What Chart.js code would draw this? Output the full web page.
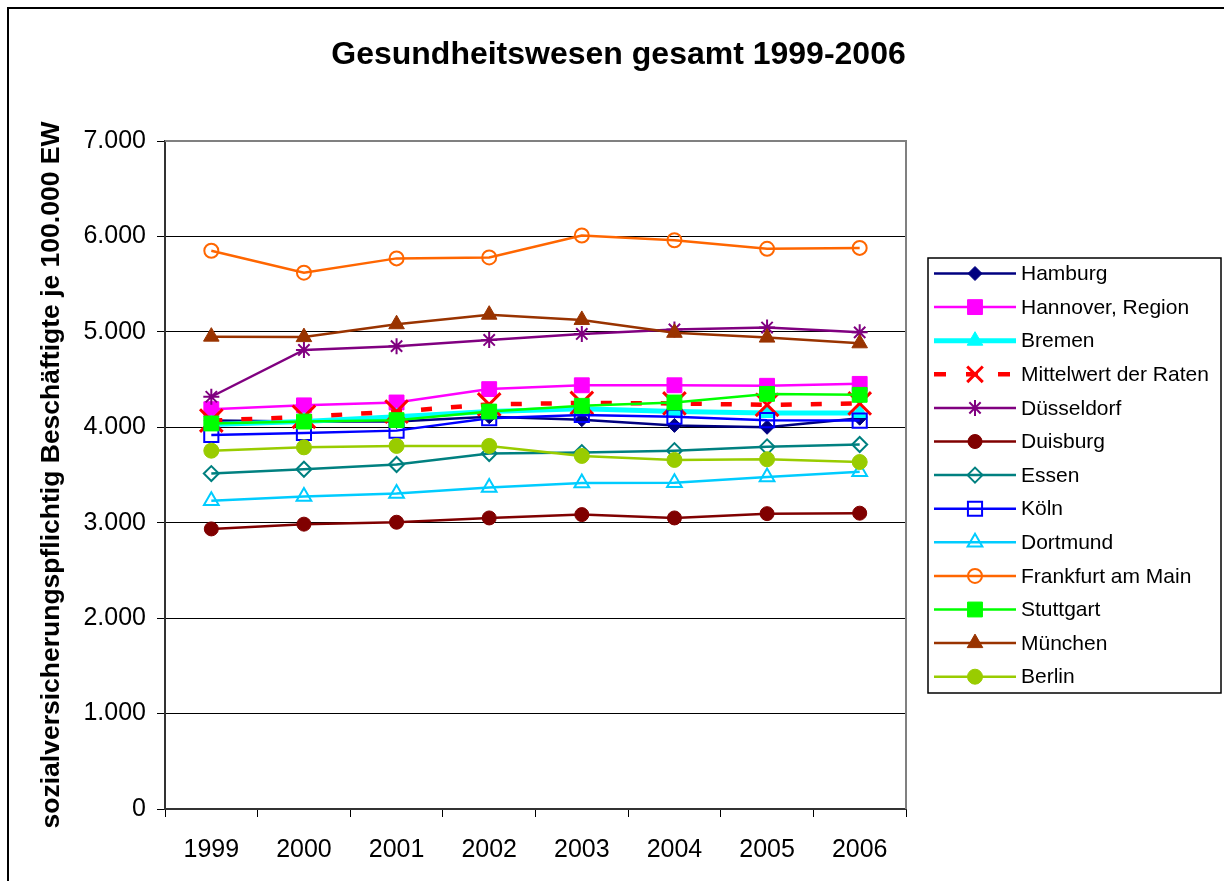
<!DOCTYPE html>
<html><head><meta charset="utf-8">
<script src="https://cdn.jsdelivr.net/npm/chart.js@4/dist/chart.umd.min.js"></script>
<style>html,body{margin:0;padding:0;background:#fff}canvas{display:block}</style>
</head><body>
<canvas id="c" width="1224" height="881"></canvas>
<script>
// ---------- data ----------
const years = ['1999','2000','2001','2002','2003','2004','2005','2006'];
const seriesNames = ['Hamburg','Hannover, Region','Bremen','Mittelwert der Raten','Düsseldorf','Duisburg','Essen','Köln','Dortmund','Frankfurt am Main','Stuttgart','München','Berlin'];
const hamburg    = [4070, 4060, 4060, 4110, 4080, 4020, 4000, 4095];
const hannover   = [4190, 4230, 4260, 4400, 4440, 4440, 4435, 4455];
const bremen     = [4030, 4060, 4110, 4165, 4195, 4165, 4150, 4150];
const mittelwert = [4070, 4110, 4165, 4240, 4255, 4250, 4235, 4250];
const duesseldorf= [4320, 4810, 4850, 4915, 4978, 5025, 5045, 4995];
const duisburg   = [2935, 2985, 3005, 3050, 3085, 3050, 3095, 3100];
const essen      = [3515, 3560, 3610, 3725, 3735, 3755, 3795, 3820];
const koeln      = [3920, 3940, 3965, 4095, 4130, 4110, 4075, 4070];
const dortmund   = [3230, 3275, 3305, 3370, 3415, 3420, 3480, 3535];
const frankfurt  = [5850, 5620, 5770, 5780, 6010, 5960, 5870, 5880];
const stuttgart  = [4040, 4060, 4075, 4165, 4225, 4260, 4350, 4340];
const muenchen   = [4950, 4945, 5080, 5180, 5125, 4990, 4940, 4880];
const berlin     = [3755, 3790, 3805, 3805, 3700, 3658, 3665, 3636];
const yTickValues = [0, 1000, 2000, 3000, 4000, 5000, 6000, 7000];
const yTickLabels = ['0', '1.000', '2.000', '3.000', '4.000', '5.000', '6.000', '7.000'];
const chartTitle = 'Gesundheitswesen gesamt 1999-2006';
const yAxisTitle = 'sozialversicherungspflichtig Beschäftigte je 100.000 EW';

const seriesValues = [hamburg, hannover, bremen, mittelwert, duesseldorf, duisburg, essen, koeln, dortmund, frankfurt, stuttgart, muenchen, berlin];

// ---------- styles ----------
const FONT = '"Liberation Sans", Arial, Helvetica, sans-serif';
const NONE = 'rgba(0,0,0,0)';
const styles = [
  {c:'#000080', ps:'rectRot',  fill:true,  r:7,   lw:2.5},
  {c:'#FF00FF', ps:'rect',     fill:true,  r:10.5,lw:2.5},
  {c:'#00FFFF', ps:'triangle', fill:true,  r:9,   lw:5},
  {c:'#FF0000', ps:'crossRot', fill:false, r:16,  lw:4.5, dash:[11,19], pbw:3},
  {c:'#800080', ps:'star',     fill:false, r:8,   lw:2.5, pbw:2},
  {c:'#800000', ps:'circle',   fill:true,  r:7,   lw:2.5},
  {c:'#008080', ps:'rectRot',  fill:false, r:7.5, lw:2.5, pbw:2},
  {c:'#0000FF', ps:'rect',     fill:false, r:10,  lw:2.5, pbw:2},
  {c:'#00CCFF', ps:'triangle', fill:false, r:8.5, lw:2.5, pbw:2},
  {c:'#FF6600', ps:'circle',   fill:false, r:7,   lw:2.5, pbw:2},
  {c:'#00FF00', ps:'rect',     fill:true,  r:10.5,lw:2.5},
  {c:'#993300', ps:'triangle', fill:true,  r:9,   lw:2.5},
  {c:'#99CC00', ps:'circle',   fill:true,  r:7.5, lw:2.5}
];

const datasets = seriesNames.map((name, i) => {
  const s = styles[i];
  return {
    label: name,
    data: seriesValues[i],
    borderColor: s.c,
    backgroundColor: s.c,
    borderWidth: s.lw,
    borderDash: s.dash || [],
    pointStyle: s.ps,
    pointRadius: s.r,
    pointBackgroundColor: s.fill ? s.c : NONE,
    pointBorderColor: s.c,
    pointBorderWidth: s.pbw || 1,
    tension: 0,
    order: seriesNames.length - i
  };
});

const framePlugin = {
  id: 'frame',
  beforeDraw(chart) {
    const ctx = chart.ctx;
    ctx.save();
    ctx.fillStyle = '#fff';
    ctx.fillRect(0, 0, chart.width, chart.height);
    ctx.strokeStyle = '#000';
    ctx.lineWidth = 2;
    ctx.beginPath();
    ctx.moveTo(8, chart.height + 5);
    ctx.lineTo(8, 8);
    ctx.lineTo(chart.width + 5, 8);
    ctx.stroke();
    // title
    ctx.fillStyle = '#000';
    ctx.font = 'bold 32px ' + FONT;
    ctx.textAlign = 'center';
    ctx.textBaseline = 'alphabetic';
    ctx.fillText(chartTitle, 618.5, 64);
    ctx.restore();
  },
  beforeDatasetsDraw(chart) {
    const {ctx, chartArea: a} = chart;
    ctx.save();
    ctx.strokeStyle = '#808080';
    ctx.lineWidth = 2;
    ctx.beginPath();
    ctx.moveTo(a.left, a.top);
    ctx.lineTo(a.right, a.top);
    ctx.lineTo(a.right, a.bottom);
    ctx.stroke();
    ctx.restore();
  },
  afterDraw(chart) {
    const ctx = chart.ctx;
    ctx.save();
    ctx.strokeStyle = '#000';
    ctx.lineWidth = 1.5;
    ctx.strokeRect(928, 258, 293, 435);
    chart.data.datasets.forEach((ds, i) => {
      const y = 273.5 + i * 33.6;
      ctx.beginPath();
      ctx.strokeStyle = ds.borderColor;
      ctx.lineWidth = ds.borderWidth;
      ctx.setLineDash(ds.borderDash && ds.borderDash.length ? [12, 20] : []);
      ctx.moveTo(934, y);
      ctx.lineTo(1016, y);
      ctx.stroke();
      ctx.setLineDash([]);
      ctx.fillStyle = ds.pointBackgroundColor;
      ctx.strokeStyle = ds.pointBorderColor;
      ctx.lineWidth = ds.pointBorderWidth;
      const r = ds.pointStyle === 'crossRot' ? 11 : ds.pointRadius;
      Chart.helpers.drawPoint(ctx, {pointStyle: ds.pointStyle, radius: r, borderWidth: ds.pointBorderWidth, rotation: 0}, 975, y);
      ctx.fillStyle = '#000';
      ctx.font = '21px ' + FONT;
      ctx.textAlign = 'left';
      ctx.textBaseline = 'middle';
      ctx.fillText(ds.label, 1021, y + 1);
    });
    ctx.restore();
  }
};

Chart.defaults.font.family = FONT;
Chart.defaults.color = '#000';

new Chart(document.getElementById('c'), {
  type: 'line',
  data: { labels: years, datasets },
  plugins: [framePlugin],
  options: {
    responsive: false,
    animation: false,
    devicePixelRatio: 1,
    layout: { padding: { left: 0, top: 141, right: 318, bottom: 0 } },
    plugins: { legend: { display: false }, title: { display: false }, tooltip: { enabled: false } },
    scales: {
      x: {
        type: 'category',
        offset: true,
        afterFit: s => { s.height = 72; },
        grid: { display: true, drawOnChartArea: false, drawTicks: true, tickLength: 8, offset: true, color: '#000', lineWidth: 1 },
        border: { display: true, color: '#333', width: 2 },
        ticks: { font: { size: 25 }, color: '#000', padding: 18, maxRotation: 0, autoSkip: false }
      },
      y: {
        min: 0, max: 7000,
        afterFit: s => { s.width = 165; },
        afterBuildTicks: s => { s.ticks = yTickValues.map(v => ({ value: v })); },
        grid: { color: c => (c.tick && c.tick.value === 7000) ? 'rgba(0,0,0,0)' : '#000', lineWidth: 1, tickLength: 8, drawTicks: true, tickColor: '#000' },
        border: { display: true, color: '#333', width: 2 },
        ticks: {
          font: { size: 25 }, color: '#000', padding: 11,
          callback: v => { const k = yTickValues.indexOf(v); return k >= 0 ? yTickLabels[k] : ''; }
        },
        title: { display: true, text: yAxisTitle, font: { size: 26.5, weight: 'bold' }, color: '#000', padding: { top: 36, bottom: 0 } }
      }
    }
  }
});
</script>
</body></html>
